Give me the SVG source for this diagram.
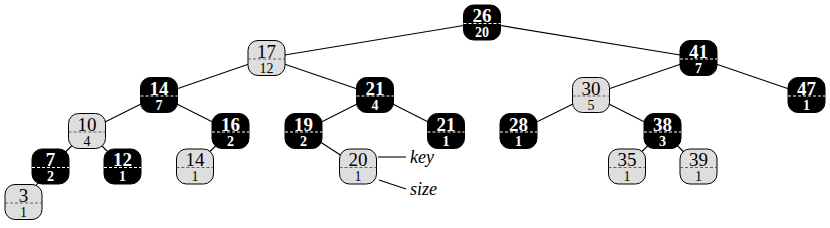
<svg xmlns="http://www.w3.org/2000/svg" width="830" height="228" viewBox="0 0 830 228">
<style>
.e line{stroke:#000;stroke-width:1.1}
.r rect{fill:#dedede;stroke:#000;stroke-width:1}
.b rect{fill:#000;stroke:#000;stroke-width:1}
.r line{stroke:#555;stroke-width:0.9;stroke-dasharray:3,2}
.b line{stroke:#fff;stroke-width:1;stroke-dasharray:3,2}
text{font-family:"Liberation Serif","Times New Roman",serif;text-anchor:middle}
.k{font-size:19px}
.s{font-size:14px}
.r text{fill:#000}
.b text{fill:#fff;font-weight:bold}
.lab{font-size:18px;font-style:italic;text-anchor:start;fill:#000}
</style>
<g class="e" id="edges">
<line x1="482" y1="22.5" x2="266.5" y2="58"/>
<line x1="482" y1="22.5" x2="698.5" y2="58"/>
<line x1="266.5" y1="58" x2="159" y2="95"/>
<line x1="266.5" y1="58" x2="375" y2="95"/>
<line x1="159" y1="95" x2="87" y2="131"/>
<line x1="159" y1="95" x2="230.5" y2="131"/>
<line x1="87" y1="131" x2="50.5" y2="166.5"/>
<line x1="87" y1="131" x2="122.5" y2="166.5"/>
<line x1="50.5" y1="166.5" x2="23.5" y2="202"/>
<line x1="230.5" y1="131" x2="195" y2="166.5"/>
<line x1="375" y1="95" x2="303.5" y2="131"/>
<line x1="375" y1="95" x2="446" y2="131"/>
<line x1="303.5" y1="131" x2="358" y2="166.5"/>
<line x1="698.5" y1="58" x2="591" y2="95"/>
<line x1="698.5" y1="58" x2="806.5" y2="95"/>
<line x1="591" y1="95" x2="518.5" y2="131"/>
<line x1="591" y1="95" x2="662.5" y2="131"/>
<line x1="662.5" y1="131" x2="627" y2="166.5"/>
<line x1="662.5" y1="131" x2="698.5" y2="166.5"/>
<line x1="378" y1="157" x2="406" y2="157"/>
<line x1="379" y1="180" x2="406" y2="189"/>
</g>
<g id="n26" class="b" transform="translate(482,22.5)"><rect x="-18.5" y="-17.5" width="37" height="35" rx="10"/><line x1="-18.5" y1="1" x2="18.5" y2="1"/><text class="k" y="-0.5">26</text><text class="s" y="14.5">20</text></g>
<g id="n17" class="r" transform="translate(266.5,58)"><rect x="-18.5" y="-17.5" width="37" height="35" rx="10"/><line x1="-18.5" y1="1" x2="18.5" y2="1"/><text class="k" y="-0.5">17</text><text class="s" y="14.5">12</text></g>
<g id="n41" class="b" transform="translate(698.5,58)"><rect x="-18.5" y="-17.5" width="37" height="35" rx="10"/><line x1="-18.5" y1="1" x2="18.5" y2="1"/><text class="k" y="-0.5">41</text><text class="s" y="14.5">7</text></g>
<g id="n14" class="b" transform="translate(159,95)"><rect x="-18.5" y="-17.5" width="37" height="35" rx="10"/><line x1="-18.5" y1="1" x2="18.5" y2="1"/><text class="k" y="-0.5">14</text><text class="s" y="14.5">7</text></g>
<g id="n21" class="b" transform="translate(375,95)"><rect x="-18.5" y="-17.5" width="37" height="35" rx="10"/><line x1="-18.5" y1="1" x2="18.5" y2="1"/><text class="k" y="-0.5">21</text><text class="s" y="14.5">4</text></g>
<g id="n30" class="r" transform="translate(591,95)"><rect x="-18.5" y="-17.5" width="37" height="35" rx="10"/><line x1="-18.5" y1="1" x2="18.5" y2="1"/><text class="k" y="-0.5">30</text><text class="s" y="14.5">5</text></g>
<g id="n47" class="b" transform="translate(806.5,95)"><rect x="-18.5" y="-17.5" width="37" height="35" rx="10"/><line x1="-18.5" y1="1" x2="18.5" y2="1"/><text class="k" y="-0.5">47</text><text class="s" y="14.5">1</text></g>
<g id="n10" class="r" transform="translate(87,131)"><rect x="-18.5" y="-17.5" width="37" height="35" rx="10"/><line x1="-18.5" y1="1" x2="18.5" y2="1"/><text class="k" y="-0.5">10</text><text class="s" y="14.5">4</text></g>
<g id="n16" class="b" transform="translate(230.5,131)"><rect x="-18.5" y="-17.5" width="37" height="35" rx="10"/><line x1="-18.5" y1="1" x2="18.5" y2="1"/><text class="k" y="-0.5">16</text><text class="s" y="14.5">2</text></g>
<g id="n19" class="b" transform="translate(303.5,131)"><rect x="-18.5" y="-17.5" width="37" height="35" rx="10"/><line x1="-18.5" y1="1" x2="18.5" y2="1"/><text class="k" y="-0.5">19</text><text class="s" y="14.5">2</text></g>
<g id="n21b" class="b" transform="translate(446,131)"><rect x="-18.5" y="-17.5" width="37" height="35" rx="10"/><line x1="-18.5" y1="1" x2="18.5" y2="1"/><text class="k" y="-0.5">21</text><text class="s" y="14.5">1</text></g>
<g id="n28" class="b" transform="translate(518.5,131)"><rect x="-18.5" y="-17.5" width="37" height="35" rx="10"/><line x1="-18.5" y1="1" x2="18.5" y2="1"/><text class="k" y="-0.5">28</text><text class="s" y="14.5">1</text></g>
<g id="n38" class="b" transform="translate(662.5,131)"><rect x="-18.5" y="-17.5" width="37" height="35" rx="10"/><line x1="-18.5" y1="1" x2="18.5" y2="1"/><text class="k" y="-0.5">38</text><text class="s" y="14.5">3</text></g>
<g id="n7" class="b" transform="translate(50.5,166.5)"><rect x="-18.5" y="-17.5" width="37" height="35" rx="10"/><line x1="-18.5" y1="1" x2="18.5" y2="1"/><text class="k" y="-0.5">7</text><text class="s" y="14.5">2</text></g>
<g id="n12" class="b" transform="translate(122.5,166.5)"><rect x="-18.5" y="-17.5" width="37" height="35" rx="10"/><line x1="-18.5" y1="1" x2="18.5" y2="1"/><text class="k" y="-0.5">12</text><text class="s" y="14.5">1</text></g>
<g id="n14b" class="r" transform="translate(195,166.5)"><rect x="-18.5" y="-17.5" width="37" height="35" rx="10"/><line x1="-18.5" y1="1" x2="18.5" y2="1"/><text class="k" y="-0.5">14</text><text class="s" y="14.5">1</text></g>
<g id="n20" class="r" transform="translate(358,166.5)"><rect x="-18.5" y="-17.5" width="37" height="35" rx="10"/><line x1="-18.5" y1="1" x2="18.5" y2="1"/><text class="k" y="-0.5">20</text><text class="s" y="14.5">1</text></g>
<g id="n35" class="r" transform="translate(627,166.5)"><rect x="-18.5" y="-17.5" width="37" height="35" rx="10"/><line x1="-18.5" y1="1" x2="18.5" y2="1"/><text class="k" y="-0.5">35</text><text class="s" y="14.5">1</text></g>
<g id="n39" class="r" transform="translate(698.5,166.5)"><rect x="-18.5" y="-17.5" width="37" height="35" rx="10"/><line x1="-18.5" y1="1" x2="18.5" y2="1"/><text class="k" y="-0.5">39</text><text class="s" y="14.5">1</text></g>
<g id="n3" class="r" transform="translate(23.5,202)"><rect x="-18.5" y="-17.5" width="37" height="35" rx="10"/><line x1="-18.5" y1="1" x2="18.5" y2="1"/><text class="k" y="-0.5">3</text><text class="s" y="14.5">1</text></g>
<g id="labels">
<text class="lab" x="410" y="163">key</text>
<text class="lab" x="410" y="195">size</text>
</g>
</svg>
